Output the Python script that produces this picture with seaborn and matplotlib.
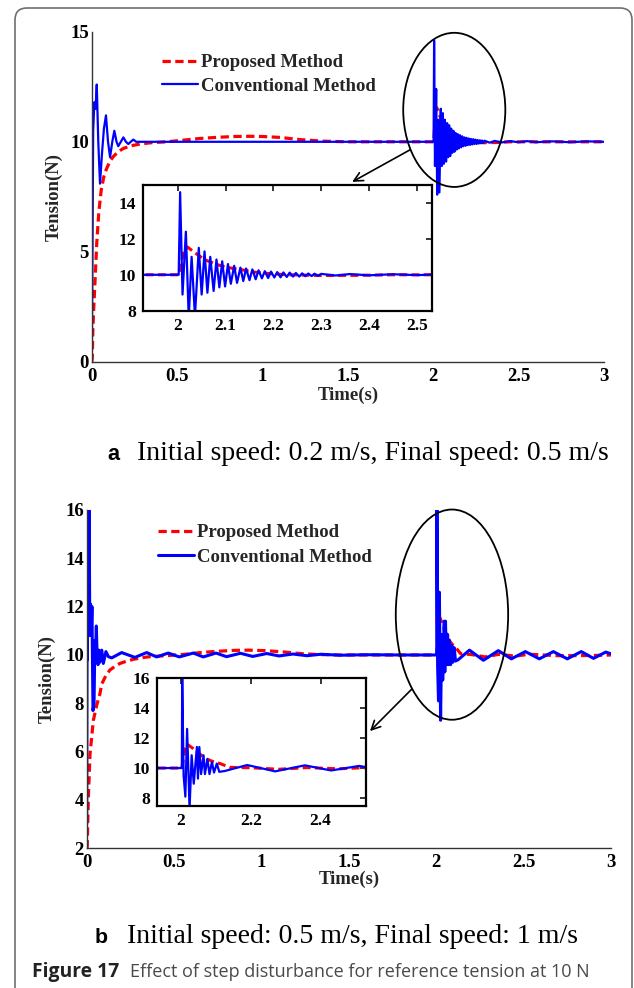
import matplotlib
matplotlib.use("Agg")
import matplotlib.pyplot as plt
import seaborn as sns
from matplotlib.patches import Ellipse, FancyBboxPatch
from matplotlib.transforms import IdentityTransform

# ---------------- data ----------------
# Panel a: initial speed 0.2 m/s, final 0.5 m/s
t_prop_a = [0.000, 0.003, 0.006, 0.011, 0.019, 0.029, 0.041, 0.055, 0.070, 0.085,
            0.105, 0.126, 0.155, 0.185, 0.230, 0.283, 0.350, 0.440, 0.530, 0.630,
            0.730, 0.830, 0.930, 1.000, 1.100, 1.220, 1.350, 1.500, 1.800, 2.000,
            2.003, 2.012, 2.020, 2.030, 2.045, 2.060, 2.082, 2.105, 2.130, 2.160,
            2.190, 2.230, 2.300, 2.380, 2.450, 2.600, 3.000]
v_prop_a = [0.0, 0.2, 1.4, 2.4, 3.7, 5.4, 6.8, 7.8, 8.4, 8.75,
            9.1, 9.33, 9.55, 9.7, 9.82, 9.9, 9.96, 10.0, 10.07, 10.15,
            10.2, 10.24, 10.25, 10.24, 10.2, 10.1, 10.03, 10.0, 10.0, 10.0,
            10.0, 11.3, 11.55, 11.35, 11.05, 10.8, 10.57, 10.4, 10.3, 10.15,
            10.07, 10.0, 9.96, 9.97, 10.0, 10.0, 10.0]

t_conv_a = [0.000, 0.004, 0.008, 0.015, 0.022, 0.029, 0.038, 0.048, 0.060, 0.071,
            0.083, 0.095, 0.107, 0.120, 0.132, 0.145, 0.155, 0.170, 0.185, 0.200,
            0.214, 0.228, 0.243, 0.260, 0.300, 0.600, 1.000, 1.400, 1.800, 2.000,
            2.002, 2.005, 2.010, 2.017, 2.023, 2.029, 2.036, 2.044, 2.050, 2.056,
            2.062, 2.068, 2.075, 2.081, 2.087, 2.093, 2.099, 2.105, 2.111, 2.118,
            2.124, 2.131, 2.137, 2.143, 2.150, 2.156, 2.163, 2.169, 2.176, 2.182,
            2.189, 2.195, 2.202, 2.208, 2.215, 2.221, 2.228, 2.234, 2.241, 2.247,
            2.254, 2.260, 2.267, 2.273, 2.280, 2.286, 2.293, 2.300, 2.330, 2.360,
            2.400, 2.450, 2.500, 2.550, 2.600, 2.700, 2.800, 2.900, 3.000]
v_conv_a = [0.0, 5.0, 10.5, 11.8, 11.5, 12.6, 10.0, 8.1, 9.5, 10.6,
            11.2, 10.0, 9.3, 10.0, 10.5, 10.0, 9.8, 10.0, 10.2, 10.0,
            9.9, 10.0, 10.1, 10.0, 10.0, 10.0, 10.0, 10.0, 10.0, 10.0,
            10.0, 14.6, 8.9, 12.4, 7.6, 11.0, 7.7, 11.5, 8.9, 11.3,
            9.0, 11.0, 9.1, 10.85, 9.3, 10.75, 9.35, 10.6, 9.5, 10.5,
            9.55, 10.4, 9.65, 10.35, 9.7, 10.3, 9.75, 10.25, 9.8, 10.2,
            9.82, 10.18, 9.85, 10.15, 9.86, 10.13, 9.88, 10.12, 9.9, 10.1,
            9.9, 10.08, 9.92, 10.07, 9.93, 10.06, 9.94, 10.05, 9.96, 10.04,
            9.97, 10.03, 9.98, 10.03, 9.98, 10.02, 9.98, 10.02, 10.0]

# Panel b: initial speed 0.5 m/s, final 1 m/s
t_prop_b = [0.000, 0.003, 0.009, 0.019, 0.038, 0.060, 0.076, 0.086, 0.110, 0.133,
            0.160, 0.190, 0.230, 0.267, 0.310, 0.360, 0.450, 0.550, 0.650, 0.740,
            0.840, 0.930, 1.020, 1.120, 1.220, 1.320, 1.450, 2.000, 2.003, 2.010,
            2.017, 2.035, 2.050, 2.074, 2.090, 2.112, 2.140, 2.200, 2.280, 2.360,
            2.450, 2.530, 2.700, 2.900, 3.000]
v_prop_b = [2.0, 2.06, 4.0, 5.9, 7.3, 8.0, 8.4, 8.8, 9.15, 9.38,
            9.52, 9.65, 9.75, 9.82, 9.88, 9.93, 9.97, 10.02, 10.1, 10.15,
            10.19, 10.2, 10.18, 10.13, 10.06, 10.02, 10.0, 10.0, 10.0, 11.0,
            11.6, 11.3, 11.0, 10.6, 10.45, 10.3, 10.05, 10.02, 9.92, 10.03,
            9.95, 10.03, 9.97, 9.98, 10.0]

t_conv_b = [0.000, 0.002, 0.004, 0.006, 0.010, 0.014, 0.018, 0.022, 0.026, 0.030,
            0.036, 0.042, 0.047, 0.051, 0.055, 0.060, 0.065, 0.070, 0.075, 0.080,
            0.086, 0.095, 0.110, 0.124, 0.143, 0.200, 0.276, 0.343, 0.400, 0.467,
            0.530, 0.610, 0.667, 0.740, 0.800, 0.880, 0.950, 1.030, 1.100, 1.180,
            1.260, 1.340, 1.450, 1.600, 1.800, 2.000, 2.003, 2.004, 2.008, 2.013,
            2.018, 2.025, 2.031, 2.037, 2.046, 2.049, 2.053, 2.058, 2.065, 2.069,
            2.076, 2.082, 2.089, 2.095, 2.103, 2.110, 2.125, 2.190, 2.270, 2.355,
            2.430, 2.510, 2.590, 2.670, 2.750, 2.830, 2.900, 2.970, 3.000]
v_conv_b = [3.0, 11.2, 9.8, 16.0, 11.0, 16.0, 10.8, 12.1, 10.9, 12.0,
            7.7, 8.0, 10.6, 10.2, 11.2, 9.9, 9.6, 10.2, 9.7, 10.0,
            10.2, 9.65, 10.14, 9.93, 9.88, 10.1, 9.9, 10.1, 9.92, 10.08,
            9.92, 10.08, 9.92, 10.08, 9.93, 10.07, 9.94, 10.06, 9.96, 10.04,
            9.97, 10.03, 9.99, 10.01, 10.0, 10.0, 10.0, 16.0, 9.5, 8.1,
            12.6, 7.3, 10.85, 8.96, 11.4, 9.3, 11.4, 9.6, 10.85, 9.6,
            10.6, 9.6, 10.4, 9.7, 10.3, 9.75, 9.8, 10.2, 9.78, 10.18,
            9.84, 10.14, 9.84, 10.14, 9.84, 10.14, 9.86, 10.12, 10.05]

labels = ["Proposed Method", "Conventional Method"]
xticks_main = [0, 0.5, 1, 1.5, 2, 2.5, 3]
yticks_a = [0, 5, 10, 15]
yticks_b = [2, 4, 6, 8, 10, 12, 14, 16]
xticks_ins_a = [2, 2.1, 2.2, 2.3, 2.4, 2.5]
yticks_ins_a = [8, 10, 12, 14]
xticks_ins_b = [2, 2.2, 2.4]
yticks_ins_b = [8, 10, 12, 14, 16]
caption_a = "Initial speed: 0.2 m/s, Final speed: 0.5 m/s"
caption_b = "Initial speed: 0.5 m/s, Final speed: 1 m/s"
fig_title = "Figure 17"
fig_desc = "Effect of step disturbance for reference tension at 10 N"

# ---------------- style ----------------
sns.set_theme(style="white")
plt.rcParams["font.family"] = ["Liberation Serif", "DejaVu Serif"]
plt.rcParams["font.weight"] = "bold"
plt.rcParams["axes.labelweight"] = "bold"

W, H = 634, 988
fig = plt.figure(figsize=(W / 100, H / 100), dpi=100)
fig.patch.set_facecolor("white")


def rect(l, t, r, b):
    return [l / W, 1 - b / H, (r - l) / W, (b - t) / H]


RED_LS = (0, (2.6, 1.4))
TICKFMT = matplotlib.ticker.FuncFormatter(lambda v, p: "%g" % round(v, 3))


def draw_lines(ax, tp, vp, tc, vc, lwp, lwc, lab):
    sns.lineplot(x=tp, y=vp, ax=ax, color="#ff0000", lw=lwp, linestyle=RED_LS,
                 estimator=None, sort=False, label=labels[0] if lab else None,
                 legend=False)
    sns.lineplot(x=tc, y=vc, ax=ax, color="#0000ff", lw=lwc,
                 estimator=None, sort=False, label=labels[1] if lab else None,
                 legend=False)


def style_main(ax, yticks, ylim, ylab_x, xlab_y):
    ax.set_xlim(0, 3)
    ax.set_ylim(*ylim)
    ax.set_xticks(xticks_main)
    ax.set_yticks(yticks)
    ax.xaxis.set_major_formatter(TICKFMT)
    ax.yaxis.set_major_formatter(TICKFMT)
    sns.despine(ax=ax)
    for s in ("left", "bottom"):
        ax.spines[s].set_color("#333333")
        ax.spines[s].set_linewidth(1.0)
    ax.tick_params(direction="in", length=4, width=1.0, color="#333333",
                   labelsize=13.5, labelcolor="black")
    ax.tick_params(axis="y", pad=2)
    ax.tick_params(axis="x", pad=4)
    ax.set_xlabel("Time(s)", fontsize=13.5, fontweight="bold")
    ax.set_ylabel("Tension(N)", fontsize=13.5, fontweight="bold")
    ax.xaxis.label.set_va("center")
    ax.yaxis.label.set_va("center")
    ax.xaxis.set_label_coords(0.5, xlab_y)
    ax.yaxis.set_label_coords(ylab_x, 0.5)
    ax.set_facecolor("none")
    ax.grid(False)


def style_inset(ax, xlim, ylim, xt, yt):
    ax.set_xlim(*xlim)
    ax.set_ylim(*ylim)
    ax.set_xticks(xt)
    ax.set_yticks(yt)
    ax.xaxis.set_major_formatter(TICKFMT)
    ax.yaxis.set_major_formatter(TICKFMT)
    for s in ax.spines.values():
        s.set_visible(True)
        s.set_color("black")
        s.set_linewidth(1.6)
    ax.tick_params(direction="in", top=True, right=True, length=4, width=1.1,
                   color="black", labelsize=12.5, labelcolor="black", pad=5)
    ax.set_xlabel("")
    ax.set_ylabel("")
    ax.set_facecolor("white")
    ax.grid(False)


def add_legend(ax, x_px, top_px, spacing):
    ax.legend(loc="upper left", bbox_to_anchor=(x_px / W, 1 - top_px / H),
              bbox_transform=fig.transFigure, frameon=False, borderpad=0,
              borderaxespad=0, handlelength=1.9, handletextpad=0.2,
              labelspacing=spacing,
              prop=dict(family="Liberation Serif", weight="bold", size=13.5))


# ---------------- panel a ----------------
axA = fig.add_axes(rect(91.8, 31.7, 604, 362))
draw_lines(axA, t_prop_a, v_prop_a, t_conv_a, v_conv_a, 2.3, 1.6, True)
style_main(axA, yticks_a, (0, 15), (54.5 - 91.8) / 512.2, -(395 - 362) / 330.3)
axA.add_patch(Ellipse((2.123, 11.45), 0.598, 7.0, fill=False, ec="black",
                      lw=1.3, clip_on=False, zorder=5))
axA.annotate("", xy=(1.525, 8.18), xytext=(1.865, 9.64),
             arrowprops=dict(arrowstyle="->", color="black", lw=1.2,
                             shrinkA=0, shrinkB=0, mutation_scale=16),
             annotation_clip=False)
add_legend(axA, 162, 54, 0.36)

insA = fig.add_axes(rect(143.3, 185, 431.7, 310.7))
draw_lines(insA, t_prop_a, v_prop_a, t_conv_a, v_conv_a, 2.2, 1.6, False)
style_inset(insA, (1.928, 2.531), (8, 15), xticks_ins_a, yticks_ins_a)

# ---------------- panel b ----------------
axB = fig.add_axes(rect(86.7, 510, 611, 848.3))
draw_lines(axB, t_prop_b, v_prop_b, t_conv_b, v_conv_b, 2.3, 2.2, True)
style_main(axB, yticks_b, (2, 16), (46.7 - 86.7) / 524.3, -(879 - 848.3) / 338.3)
axB.add_patch(Ellipse((2.09, 11.67), 0.643, 8.7, fill=False, ec="black",
                      lw=1.3, clip_on=False, zorder=5))
axB.annotate("", xy=(1.621, 6.85), xytext=(1.859, 8.58),
             arrowprops=dict(arrowstyle="->", color="black", lw=1.2,
                             shrinkA=0, shrinkB=0, mutation_scale=16),
             annotation_clip=False)
add_legend(axB, 158, 524, 0.4)

insB = fig.add_axes(rect(156.7, 677.7, 365.7, 805.7))
draw_lines(insB, t_prop_b, v_prop_b, t_conv_b, v_conv_b, 2.2, 1.6, False)
style_inset(insB, (1.931, 2.529), (7.5, 16), xticks_ins_b, yticks_ins_b)

# ---------------- captions ----------------
renderer = fig.canvas.get_renderer()


def fit_text(x_px, base_px, s, width_px, **kw):
    t = fig.text(x_px / W, 1 - base_px / H, s, ha="left", va="baseline",
                 fontsize=20, **kw)
    w = t.get_window_extent(renderer).width
    t.set_fontsize(20 * width_px / w)
    return t


fit_text(107, 460, "a", 12, family="Liberation Sans", weight="bold", color="black")
fit_text(137, 460, caption_a, 471, family="Liberation Serif", weight="normal", color="black")
fit_text(95, 943, "b", 13, family="Liberation Sans", weight="bold", color="black")
fit_text(127, 943, caption_b, 450, family="Liberation Serif", weight="normal", color="black")
fit_text(32, 977, fig_title, 87, family="Open Sans", weight="bold", color="#222222")
fit_text(130, 977, fig_desc, 461, family="Open Sans", weight="normal", color="#4a4a4a")

# ---------------- outer frame ----------------
frame = FancyBboxPatch((15, -30), 617, 1010, boxstyle="round,pad=0,rounding_size=12",
                       transform=IdentityTransform(), fc="none", ec="#707070",
                       lw=1.2)
fig.add_artist(frame)

fig.savefig("out.png", dpi=100)
